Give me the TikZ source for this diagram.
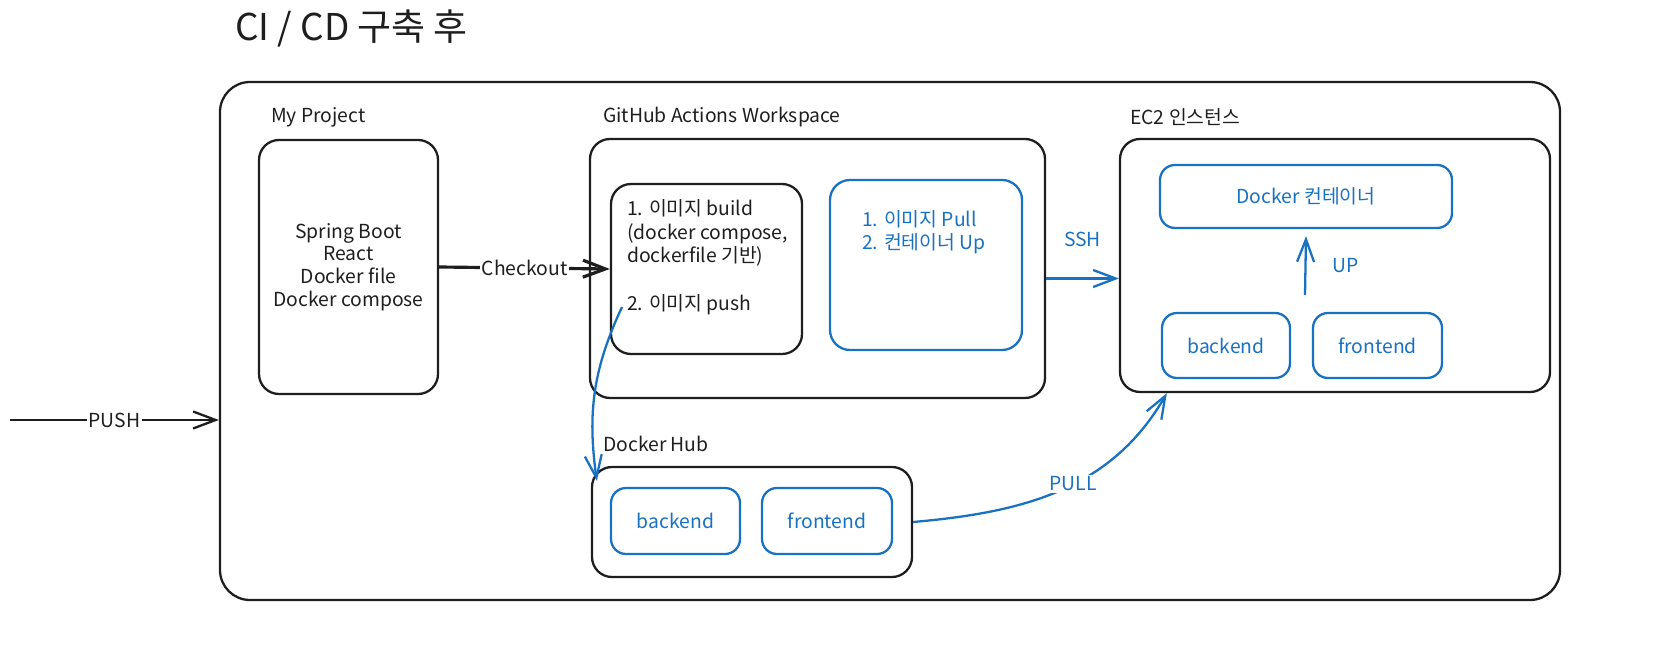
\documentclass[tikz,border=0pt]{standalone}
\usepackage{fontspec}
\setmainfont{Noto Sans CJK KR}
\usetikzlibrary{arrows.meta}
\definecolor{exblue}{HTML}{1971C2}
\definecolor{exblack}{HTML}{1E1E1E}

\begin{document}
\begin{tikzpicture}[
  font=\fontsize{11}{13}\selectfont,
  box/.style={draw=exblack, line width=1.3pt, rounded corners=0.4cm},
  bbox/.style={draw=exblue, text=exblue, line width=1.3pt, rounded corners=0.3cm},
  tag/.style={anchor=west, text=exblack},
  barb/.style={-{Straight Barb[length=4.5mm,width=3.4mm]}, line width=1.3pt}
  ]
  \useasboundingbox (0,0) rectangle (33.58,-13.06);
  \node[text=exblack, font=\fontsize{21}{24}\selectfont] (title) at (7.03,-0.56) {CI / CD 구축 후};
  \node[box, rounded corners=0.6cm, minimum width=26.8cm, minimum height=10.36cm] (outer) at (17.8,-6.82) {};

  \node[tag] (mplabel) at (5.3,-2.34) {My Project};
  \node[box, minimum width=3.58cm, minimum height=5.08cm, align=center, text=exblack] (mp) at (6.97,-5.34) {Spring Boot\\React\\Docker file\\Docker compose};

  \node[tag] (ghlabel) at (11.94,-2.34) {GitHub Actions Workspace};
  \node[box, minimum width=9.1cm, minimum height=5.18cm] (gh) at (16.35,-5.37) {};
  \node[box, minimum width=3.82cm, minimum height=3.4cm] (build) at (14.13,-5.38) {};
  \node[anchor=north west, align=left, text=exblack, font=\fontsize{11}{13.6}\selectfont] (buildtxt) at (12.42,-3.86) {1. 이미지 build\\(docker compose,\\dockerfile 기반)\\[\baselineskip]2. 이미지 push};
  \node[bbox, rounded corners=0.4cm, minimum width=3.84cm, minimum height=3.4cm] (pull) at (18.52,-5.3) {};
  \node[anchor=north west, align=left, text=exblue] (pulltxt) at (17.12,-4.08) {1. 이미지 Pull\\2. 컨테이너 Up};

  \node[tag] (ec2label) at (22.48,-2.34) {EC2 인스턴스};
  \node[box, minimum width=8.6cm, minimum height=5.06cm] (ec2) at (26.7,-5.31) {};
  \node[bbox, minimum width=5.84cm, minimum height=1.26cm] (dock) at (26.12,-3.93) {Docker 컨테이너};
  \node[bbox, minimum width=2.56cm, minimum height=1.3cm] (ec2back) at (24.52,-6.91) {backend};
  \node[bbox, minimum width=2.58cm, minimum height=1.3cm] (ec2front) at (27.55,-6.91) {frontend};

  \node[tag] (hublabel) at (11.94,-8.88) {Docker Hub};
  \node[box, minimum width=6.4cm, minimum height=2.2cm] (hub) at (15.04,-10.44) {};
  \node[bbox, minimum width=2.58cm, minimum height=1.32cm] (hubback) at (13.51,-10.42) {backend};
  \node[bbox, minimum width=2.6cm, minimum height=1.32cm] (hubfront) at (16.54,-10.42) {frontend};

  \coordinate (pushsrc) at (0.2,-8.4);
  \coordinate (pushfrom) at (12.44,-6.14);
  \coordinate (upfrom) at (26.1,-5.9);

  \draw[barb, exblack] (pushsrc) -- (pushsrc -| outer.west) node[midway, fill=white, inner sep=1pt]{PUSH};
  \draw[barb, exblack, line width=1.8pt] (mp.east) -- (build.west) node[midway, fill=white, inner sep=1pt]{Checkout};
  \draw[barb, exblue] ([yshift=-0.2cm]gh.east) -- ([yshift=-0.2cm]gh.east -| ec2.west) node[midway, above=5mm]{SSH};
  \draw[barb, exblue] (upfrom) -- ([yshift=-1.4mm]dock.south) node[midway, right=4mm]{UP};
  \draw[barb, exblue] (pushfrom) to[out=245, in=98] ([shift={(0.12,-0.3)}]hub.north west);
  \draw[barb, exblue] (hub.east) to[out=5, in=240] node[pos=0.55, fill=white, inner sep=1pt]{PULL} ([xshift=0.96cm]ec2.south west);
\end{tikzpicture}
\end{document}
